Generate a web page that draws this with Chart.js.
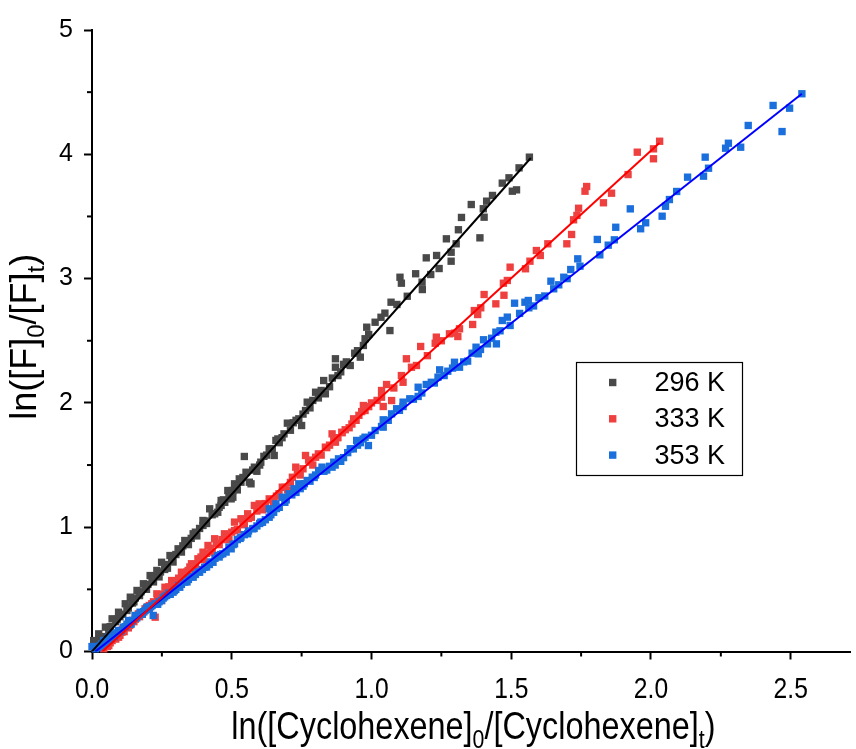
<!DOCTYPE html>
<html>
<head>
<meta charset="utf-8">
<script src="https://cdn.jsdelivr.net/npm/chart.js@4.4.1/dist/chart.umd.min.js"></script>
<style>
  html, body { margin: 0; padding: 0; background: #fff; }
</style>
</head>
<body>
<canvas id="chart" width="856" height="749"></canvas>
<script>
// series labels (legend)
const seriesLabels = ['296 K', '333 K', '353 K']

const pts296 = [
  [0.006,0.048],[0.006,0.088],[0.015,0.06],[0.024,0.142],[0.03,0.10],[0.04,0.12],[0.048,0.196],[0.06,0.17],
  [0.065,0.20],[0.072,0.263],[0.085,0.24],[0.09,0.26],[0.095,0.316],[0.1,0.28],[0.11,0.30],[0.119,0.384],
  [0.125,0.33],[0.13,0.35],[0.137,0.437],[0.145,0.39],[0.15,0.40],[0.155,0.43],[0.161,0.491],[0.17,0.45],
  [0.175,0.48],[0.184,0.545],[0.19,0.52],[0.195,0.50],[0.2,0.54],[0.208,0.611],[0.215,0.58],[0.22,0.56],
  [0.225,0.61],[0.232,0.652],[0.24,0.60],[0.245,0.64],[0.249,0.718],[0.26,0.66],[0.265,0.70],[0.27,0.67],
  [0.279,0.772],[0.285,0.75],[0.29,0.72],[0.3,0.78],[0.308,0.826],[0.315,0.82],[0.32,0.80],[0.325,0.85],
  [0.332,0.893],[0.34,0.88],[0.345,0.86],[0.355,0.91],[0.362,0.947],[0.37,0.96],[0.375,0.93],[0.385,0.99],
  [0.397,1.014],[0.397,1.054],[0.405,1.05],[0.41,1.03],[0.421,1.148],[0.43,1.10],[0.439,1.108],[0.45,1.12],
  [0.455,1.16],[0.462,1.175],[0.462,1.215],[0.47,1.22],[0.475,1.20],[0.486,1.295],[0.49,1.25],[0.498,1.228],
  [0.504,1.295],[0.504,1.241],[0.510,1.349],[0.515,1.31],[0.52,1.30],[0.527,1.389],[0.533,1.362],[0.54,1.40],
  [0.545,1.569],[0.551,1.442],[0.563,1.362],[0.569,1.349],[0.575,1.46],[0.581,1.483],[0.59,1.45],[0.6,1.50],
  [0.604,1.523],[0.615,1.57],[0.625,1.58],[0.634,1.631],[0.645,1.63],[0.652,1.577],[0.658,1.698],[0.665,1.71],
  [0.67,1.68],[0.68,1.72],[0.687,1.751],[0.699,1.837],[0.71,1.78],[0.72,1.84],[0.73,1.86],[0.740,1.872],
  [0.750,1.818],[0.755,1.91],[0.764,1.939],[0.770,2.006],[0.78,1.96],[0.79,2.02],[0.800,2.086],[0.81,2.04],
  [0.82,2.10],[0.829,2.180],[0.835,2.073],[0.85,2.13],[0.86,2.20],[0.871,2.355],[0.871,2.287],[0.88,2.22],
  [0.89,2.25],[0.90,2.31],[0.91,2.33],[0.924,2.301],[0.94,2.40],[0.95,2.42],[0.960,2.368],[0.971,2.462],
  [0.977,2.516],[0.983,2.609],[0.99,2.55],[1.013,2.649],[1.034,2.689],[1.048,2.722],[1.066,2.582],[1.070,2.810],
  [1.091,2.792],[1.102,3.011],[1.107,2.963],[1.128,2.858],[1.158,3.039],[1.181,2.971],[1.182,2.912],[1.196,3.167],
  [1.212,3.033],[1.233,3.186],[1.242,3.081],[1.268,3.320],[1.285,3.212],[1.285,3.140],[1.303,3.280],[1.311,3.393],
  [1.322,3.492],[1.357,3.596],[1.388,3.328],[1.400,3.562],[1.403,3.494],[1.412,3.623],[1.433,3.669],[1.468,3.768],
  [1.492,3.811],[1.504,3.703],[1.519,3.714],[1.528,3.891],[1.565,3.977]
]

const pts333 = [
  [0.042,0.022],[0.05,0.05],[0.055,0.04],[0.060,0.048],[0.065,0.07],[0.072,0.088],[0.08,0.12],[0.085,0.10],
  [0.095,0.115],[0.1,0.13],[0.107,0.155],[0.11,0.18],[0.115,0.16],[0.125,0.196],[0.13,0.19],[0.135,0.21],
  [0.143,0.249],[0.15,0.24],[0.155,0.26],[0.166,0.303],[0.17,0.28],[0.18,0.30],[0.185,0.32],[0.190,0.344],
  [0.20,0.36],[0.205,0.37],[0.214,0.384],[0.22,0.40],[0.226,0.276],[0.232,0.464],[0.235,0.42],[0.24,0.44],
  [0.249,0.410],[0.255,0.46],[0.261,0.517],[0.27,0.50],[0.275,0.52],[0.285,0.571],[0.29,0.54],[0.30,0.56],
  [0.31,0.59],[0.320,0.638],[0.325,0.63],[0.33,0.62],[0.34,0.64],[0.344,0.652],[0.35,0.68],[0.356,0.706],
  [0.365,0.67],[0.37,0.70],[0.379,0.746],[0.39,0.76],[0.397,0.799],[0.40,0.74],[0.41,0.79],[0.415,0.853],
  [0.425,0.83],[0.43,0.80],[0.439,0.907],[0.445,0.87],[0.455,0.86],[0.465,0.90],[0.474,0.947],[0.48,0.93],
  [0.49,0.90],[0.50,0.96],[0.510,0.973],[0.510,1.041],[0.52,0.98],[0.533,1.068],[0.54,1.05],[0.545,1.02],
  [0.557,1.108],[0.56,1.07],[0.57,1.08],[0.581,1.175],[0.59,1.13],[0.598,1.188],[0.61,1.14],[0.62,1.19],
  [0.634,1.228],[0.64,1.22],[0.65,1.20],[0.66,1.25],[0.669,1.269],[0.681,1.322],[0.69,1.32],[0.70,1.30],
  [0.71,1.36],[0.717,1.402],[0.729,1.483],[0.735,1.43],[0.745,1.42],[0.755,1.47],[0.764,1.577],[0.775,1.54],
  [0.782,1.523],[0.79,1.50],[0.800,1.563],[0.81,1.59],[0.82,1.58],[0.835,1.644],[0.84,1.64],[0.85,1.66],
  [0.859,1.751],[0.865,1.70],[0.871,1.684],[0.88,1.72],[0.894,1.764],[0.895,1.76],[0.906,1.784],[0.92,1.80],
  [0.93,1.83],[0.936,1.872],[0.945,1.86],[0.955,1.90],[0.965,1.93],[0.971,1.979],[0.977,1.939],[0.99,1.97],
  [1.00,2.00],[1.02,2.02],[1.036,2.046],[1.036,2.100],[1.042,1.971],[1.054,2.148],[1.072,2.019],[1.08,2.12],
  [1.107,2.220],[1.113,2.166],[1.125,2.355],[1.143,2.287],[1.161,2.301],[1.176,2.454],[1.20,2.38],[1.228,2.480],
  [1.232,2.529],[1.25,2.50],[1.279,2.556],[1.297,2.561],[1.309,2.534],[1.315,2.596],[1.362,2.631],[1.368,2.743],
  [1.380,2.711],[1.391,2.765],[1.403,2.872],[1.445,2.797],[1.472,2.963],[1.474,2.866],[1.486,2.985],[1.496,3.092],
  [1.551,3.079],[1.567,3.140],[1.590,3.226],[1.604,3.186],[1.631,3.280],[1.699,3.280],[1.716,3.355],[1.723,3.473],
  [1.735,3.508],[1.741,3.566],[1.764,3.703],[1.770,3.741],[1.830,3.610],[1.859,3.687],[1.918,3.837],[1.951,4.017],
  [2.009,3.964],[2.009,4.044],[2.031,4.105]
]

const pts353 = [
  [0.0,0.04],[0.012,0.022],[0.02,0.03],[0.025,0.04],[0.030,0.048],[0.035,0.06],[0.042,0.088],[0.05,0.07],
  [0.055,0.09],[0.060,0.115],[0.065,0.10],[0.072,0.142],[0.075,0.13],[0.08,0.12],[0.09,0.15],[0.095,0.169],
  [0.1,0.16],[0.105,0.17],[0.113,0.196],[0.12,0.2],[0.125,0.22],[0.131,0.249],[0.14,0.22],[0.145,0.25],
  [0.154,0.290],[0.16,0.27],[0.165,0.29],[0.172,0.316],[0.18,0.30],[0.185,0.32],[0.19,0.33],[0.196,0.356],
  [0.205,0.34],[0.21,0.36],[0.215,0.37],[0.219,0.290],[0.226,0.384],[0.235,0.38],[0.24,0.40],[0.249,0.410],
  [0.255,0.43],[0.26,0.44],[0.267,0.451],[0.275,0.47],[0.28,0.46],[0.290,0.477],[0.295,0.49],[0.30,0.50],
  [0.31,0.53],[0.314,0.517],[0.32,0.54],[0.332,0.558],[0.34,0.56],[0.345,0.58],[0.355,0.60],[0.362,0.598],
  [0.37,0.62],[0.38,0.64],[0.385,0.638],[0.395,0.66],[0.403,0.678],[0.41,0.68],[0.42,0.70],[0.425,0.72],
  [0.433,0.718],[0.44,0.75],[0.450,0.772],[0.455,0.76],[0.46,0.78],[0.468,0.786],[0.48,0.80],[0.49,0.84],
  [0.498,0.826],[0.505,0.86],[0.510,0.866],[0.52,0.90],[0.53,0.91],[0.533,0.920],[0.545,0.94],[0.557,0.947],
  [0.56,0.97],[0.575,0.987],[0.58,0.99],[0.59,1.01],[0.60,1.03],[0.604,1.041],[0.61,1.04],[0.62,1.06],
  [0.634,1.080],[0.634,1.148],[0.64,1.10],[0.65,1.12],[0.658,1.188],[0.66,1.15],[0.67,1.16],[0.681,1.241],
  [0.69,1.20],[0.695,1.22],[0.705,1.269],[0.715,1.26],[0.723,1.309],[0.73,1.28],[0.740,1.349],[0.745,1.31],
  [0.755,1.33],[0.76,1.35],[0.770,1.376],[0.78,1.37],[0.788,1.402],[0.795,1.40],[0.80,1.42],[0.811,1.456],
  [0.823,1.483],[0.83,1.45],[0.84,1.46],[0.85,1.49],[0.859,1.483],[0.865,1.523],[0.87,1.50],[0.882,1.550],
  [0.89,1.53],[0.90,1.56],[0.915,1.60],[0.924,1.631],[0.935,1.63],[0.947,1.698],[0.95,1.66],[0.96,1.68],
  [0.97,1.71],[0.977,1.724],[0.989,1.657],[1.00,1.74],[1.013,1.778],[1.036,1.810],[1.042,1.805],[1.042,1.864],
  [1.06,1.86],[1.072,1.912],[1.090,1.953],[1.10,1.94],[1.113,2.006],[1.113,1.971],[1.137,2.033],[1.15,2.03],
  [1.167,2.052],[1.167,2.126],[1.18,2.08],[1.196,2.148],[1.214,2.166],[1.225,2.16],[1.238,2.207],[1.244,2.266],
  [1.26,2.22],[1.273,2.255],[1.29,2.28],[1.297,2.327],[1.315,2.287],[1.33,2.33],[1.344,2.336],[1.36,2.40],
  [1.374,2.448],[1.382,2.395],[1.39,2.43],[1.401,2.508],[1.415,2.475],[1.43,2.52],[1.445,2.569],[1.447,2.475],
  [1.46,2.58],[1.468,2.663],[1.486,2.690],[1.496,2.623],[1.512,2.802],[1.53,2.72],[1.549,2.810],[1.561,2.824],
  [1.563,2.765],[1.58,2.78],[1.599,2.846],[1.62,2.86],[1.642,2.979],[1.652,2.918],[1.67,2.95],[1.688,3.011],
  [1.70,3.00],[1.713,3.073],[1.738,3.159],[1.746,3.100],[1.808,3.315],[1.817,3.191],[1.847,3.269],[1.869,3.312],
  [1.874,3.413],[1.926,3.561],[1.963,3.401],[1.981,3.449],[2.040,3.502],[2.052,3.582],[2.066,3.636],[2.092,3.701],
  [2.131,3.816],[2.188,3.824],[2.194,3.977],[2.206,3.888],[2.267,4.049],[2.277,4.089],[2.321,4.057],[2.348,4.232],
  [2.437,4.393],[2.469,4.183],[2.496,4.371],[2.540,4.487]
]

// linear fit end points
const fit296 = [[0, 0], [1.57, 3.97]]
const fit333 = [[0.037, 0], [2.03, 4.09]]
const fit353 = [[0.012, 0], [2.54, 4.487]]

// axis ticks
const xTicks = [0, 0.5, 1.0, 1.5, 2.0, 2.5]
const xTickLabels = ['0.0', '0.5', '1.0', '1.5', '2.0', '2.5']
const xMinor = [0.25, 0.75, 1.25, 1.75, 2.25]
const yMinor = [0.5, 1.5, 2.5, 3.5, 4.5]

const pointColors = ['#494949', '#ef4040', '#1b6fdd']
const lineColors = ['#000000', '#ff0000', '#0000ff']
const FONT = '"Liberation Sans", Arial, sans-serif'

const toXY = arr => arr.map(p => ({ x: p[0], y: p[1] }))

function scatterSet(label, pts, color, order) {
  return {
    type: 'scatter',
    label,
    data: toXY(pts),
    backgroundColor: color,
    borderWidth: 0,
    pointStyle: 'rect',
    pointRadius: 5.2,
    pointBorderWidth: 0,
    order,
    clip: false
  }
}

function fitSet(pts, color) {
  return {
    type: 'line',
    label: '',
    data: toXY(pts),
    borderColor: color,
    borderWidth: 2,
    pointRadius: 0,
    fill: false,
    order: 0
  }
}

// draws text with sub-scripted parts, centered on x
function drawRich(ctx, parts, size, subSize, subDrop, sx) {
  const widths = parts.map(p => {
    ctx.font = `${p.sub ? subSize : size}px ${FONT}`
    return ctx.measureText(p.t).width
  })
  const total = widths.reduce((a, b) => a + b, 0)
  ctx.scale(sx, 1)
  let x = -total / 2
  parts.forEach((p, i) => {
    ctx.font = `${p.sub ? subSize : size}px ${FONT}`
    ctx.fillText(p.t, x, p.sub ? subDrop : 0)
    x += widths[i]
  })
}

const axisDecor = {
  id: 'axisDecor',
  afterDraw(chart) {
    const ctx = chart.ctx
    const xs = chart.scales.x
    const ys = chart.scales.y
    const area = chart.chartArea
    ctx.save()
    ctx.strokeStyle = '#000'
    ctx.lineWidth = 2
    // minor ticks
    xMinor.forEach(v => {
      const px = xs.getPixelForValue(v)
      ctx.beginPath(); ctx.moveTo(px, area.bottom); ctx.lineTo(px, area.bottom + 5); ctx.stroke()
    })
    yMinor.forEach(v => {
      const py = ys.getPixelForValue(v)
      ctx.beginPath(); ctx.moveTo(area.left, py); ctx.lineTo(area.left - 5, py); ctx.stroke()
    })
    // x tick labels (condensed face)
    ctx.fillStyle = '#000'
    ctx.textAlign = 'center'
    ctx.textBaseline = 'middle'
    ctx.font = `30px ${FONT}`
    xTicks.forEach((v, i) => {
      ctx.save()
      ctx.translate(xs.getPixelForValue(v), area.bottom + 38)
      ctx.scale(0.82, 1)
      ctx.fillText(xTickLabels[i], 0, 0)
      ctx.restore()
    })
    // axis titles
    ctx.textAlign = 'left'
    ctx.textBaseline = 'alphabetic'
    ctx.save()
    ctx.translate((area.left + area.right) / 2 + 2, 739)
    drawRich(ctx, [
      { t: 'ln([Cyclohexene]' }, { t: '0', sub: true },
      { t: '/[Cyclohexene]' }, { t: 't', sub: true }, { t: ')' }
    ], 39.5, 26, 9, 0.82)
    ctx.restore()
    ctx.save()
    ctx.translate(36, (area.top + area.bottom) / 2 - 4)
    ctx.rotate(-Math.PI / 2)
    drawRich(ctx, [
      { t: 'ln([F]' }, { t: '0', sub: true }, { t: '/[F]' }, { t: 't', sub: true }, { t: ')' }
    ], 36, 24, 8, 1)
    ctx.restore()
    // legend
    const lx = 576.5, ly = 362.5
    ctx.lineWidth = 1.2
    ctx.strokeRect(lx, ly, 166, 113)
    ctx.font = `27px ${FONT}`
    ctx.textBaseline = 'middle'
    seriesLabels.forEach((lab, i) => {
      const cy = ly + 20 + i * 36.3
      ctx.fillStyle = pointColors[i]
      ctx.fillRect(lx + 32.5, cy - 3.7, 7.4, 7.4)
      ctx.fillStyle = '#000'
      ctx.fillText(lab, lx + 78, cy + 1)
    })
    ctx.restore()
  }
}

const axisGrid = {
  display: true,
  drawOnChartArea: false,
  drawTicks: true,
  tickLength: 8,
  tickWidth: 2,
  tickColor: '#000'
}
const axisBorder = { display: true, color: '#000', width: 2 }

new Chart(document.getElementById('chart'), {
  type: 'scatter',
  data: {
    datasets: [
      fitSet(fit296, lineColors[0]),
      fitSet(fit333, lineColors[1]),
      fitSet(fit353, lineColors[2]),
      scatterSet(seriesLabels[2], pts353, pointColors[2], 1),
      scatterSet(seriesLabels[1], pts333, pointColors[1], 2),
      scatterSet(seriesLabels[0], pts296, pointColors[0], 3)
    ]
  },
  options: {
    responsive: false,
    animation: false,
    layout: { padding: { top: 30, left: 0, right: 0, bottom: 0 } },
    plugins: {
      legend: { display: false },
      tooltip: { enabled: false }
    },
    scales: {
      x: {
        type: 'linear',
        min: 0,
        max: 2.715,
        afterFit: s => { s.height = 97.5 },
        afterBuildTicks: s => { s.ticks = s.ticks.filter(t => t.value <= 2.5 + 1e-9) },
        ticks: { display: false, stepSize: 0.5 },
        grid: axisGrid,
        border: axisBorder
      },
      y: {
        type: 'linear',
        min: 0,
        max: 5,
        afterFit: s => { s.width = 92 },
        ticks: {
          stepSize: 1,
          padding: 11,
          color: '#000',
          font: { family: FONT, size: 25 }
        },
        grid: axisGrid,
        border: axisBorder
      }
    }
  },
  plugins: [axisDecor]
})
</script>
</body>
</html>
